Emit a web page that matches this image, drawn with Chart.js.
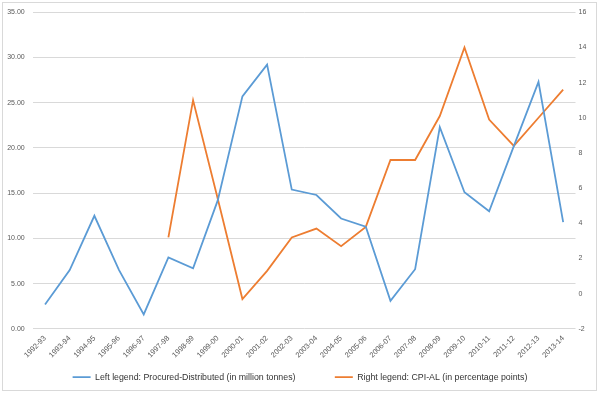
<!DOCTYPE html>
<html>
<head>
<meta charset="utf-8">
<script src="https://cdn.jsdelivr.net/npm/chart.js@4/dist/chart.umd.min.js"></script>
<style>
  html, body { margin: 0; padding: 0; background: #fff; }
  #wrap { width: 600px; height: 394px; position: relative; }
</style>
</head>
<body>
<div id="wrap"><canvas id="chart" width="600" height="394"></canvas></div>
<script>
    "use strict";
    var years = ['1992-93', '1993-94', '1994-95', '1995-96', '1996-97', '1997-98', '1998-99',
        '1999-00', '2000-01', '2001-02', '2002-03', '2003-04', '2004-05', '2005-06', '2006-07',
        '2007-08', '2008-09', '2009-10', '2010-11', '2011-12', '2012-13', '2013-14'];
    // million tonnes, left axis
    var procuredDistributed = [2.7, 6.5, 12.5, 6.5, 1.6, 7.9, 6.7, 14.2, 25.7, 29.2, 15.4, 14.8,
        12.2, 11.3, 3.1, 6.6, 22.3, 15.1, 13.0, 20.2, 27.3, 11.8];
    // percentage points, right axis
    var cpiAL = [null, null, null, null, null, 3.2, 11.0, 5.4, -0.3, 1.3, 3.2, 3.7,
        2.7, 3.8, 7.6, 7.6, 10.1, 14.0, 9.9, 8.4, 10.0, 11.6];
    var leftTicks = [0, 35, 5];   // min, max, step
    var rightTicks = [-2, 16, 2];

    var tickFont = { family: 'Liberation Sans', size: 7 };
    var tickColor = '#595959';

    // light frame round the whole picture
    var framePlugin = {
        id: 'frame',
        beforeDraw: function(chart) {
            var ctx = chart.ctx;
            ctx.save();
            ctx.fillStyle = '#fff';
            ctx.fillRect(0, 0, chart.width, chart.height);
            ctx.strokeStyle = '#d9d9d9';
            ctx.lineWidth = 1;
            ctx.strokeRect(2.5, 2.5, 594, 388);
            ctx.restore();
        }
    };

    new Chart(document.getElementById('chart').getContext('2d'), {
        type: 'line',
        data: {
            labels: years,
            datasets: [{
                label: 'Left legend: Procured-Distributed (in million tonnes)',
                data: procuredDistributed, yAxisID: 'y',
                borderColor: '#5B9BD5', backgroundColor: '#5B9BD5',
                borderWidth: 1.8, pointRadius: 0, tension: 0
            }, {
                label: 'Right legend: CPI-AL (in percentage points)',
                data: cpiAL, yAxisID: 'y1',
                borderColor: '#ED7D31', backgroundColor: '#ED7D31',
                borderWidth: 1.8, pointRadius: 0, tension: 0, spanGaps: false
            }]
        },
        options: {
            responsive: false,
            animation: false,
            layout: { padding: { top: 11, left: 0, right: 0, bottom: 2.5 } },
            plugins: {
                tooltip: { enabled: false },
                legend: {
                    position: 'bottom',
                    labels: {
                        usePointStyle: true, pointStyle: 'line', pointStyleWidth: 18,
                        padding: 10, color: '#333333',
                        font: { family: 'Liberation Sans', size: 8.8 },
                        generateLabels: function(chart) {
                            var items = Chart.defaults.plugins.legend.labels.generateLabels(chart);
                            // wider gap after the first entry, as in the original
                            items[0].text += '\u00a0'.repeat(12);
                            return items;
                        }
                    }
                }
            },
            scales: {
                x: {
                    offset: true,
                    grid: { display: false, drawTicks: false },
                    border: { display: false },
                    ticks: { autoSkip: false, minRotation: 45, maxRotation: 45, padding: 5,
                        color: tickColor, font: { family: 'Liberation Sans', size: 7.5 } },
                    afterFit: function(s) { s.height = 33.8; }
                },
                y: {
                    position: 'left', min: leftTicks[0], max: leftTicks[1],
                    grid: { color: '#d9d9d9', drawTicks: false },
                    border: { display: false },
                    ticks: { stepSize: leftTicks[2], padding: 8, color: tickColor, font: tickFont,
                        callback: function(v) { return v.toFixed(2); } },
                    afterFit: function(s) { s.width = 32.7; }
                },
                y1: {
                    position: 'right', min: rightTicks[0], max: rightTicks[1],
                    grid: { display: false, drawTicks: false },
                    border: { display: false },
                    ticks: { stepSize: rightTicks[2], padding: 3, color: tickColor, font: tickFont },
                    afterFit: function(s) { s.width = 24.5; }
                }
            }
        },
        plugins: [framePlugin]
    });
</script>
</body>
</html>
